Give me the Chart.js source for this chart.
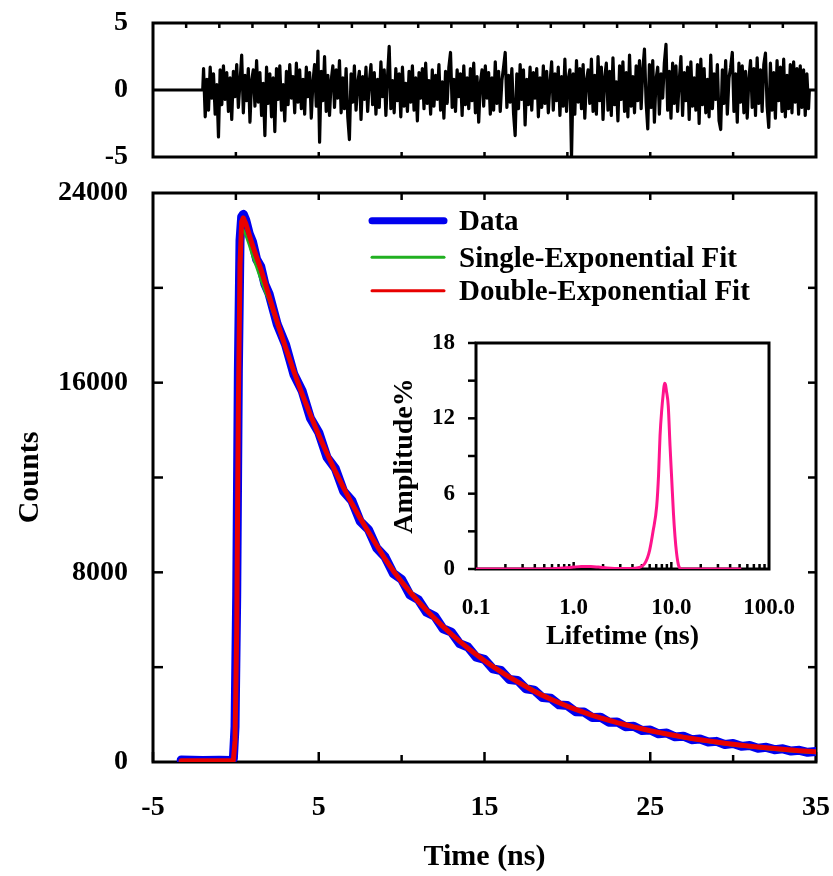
<!DOCTYPE html>
<html><head><meta charset="utf-8">
<script src="https://cdn.jsdelivr.net/npm/chart.js@4.4.1/dist/chart.umd.min.js"></script>
<style>
html,body{margin:0;padding:0;background:#fff;width:833px;height:876px;overflow:hidden;position:relative}
canvas{position:absolute}
</style></head><body>
<canvas id="res" width="833" height="175" style="left:0px;top:0px"></canvas>
<canvas id="main" width="833" height="701" style="left:0px;top:175px"></canvas>
<canvas id="inset" width="420" height="340" style="left:380px;top:330px"></canvas>
<script>
const FONT = "'Liberation Serif','Times New Roman',serif";

// ---------- residual panel (sampled every 0.1 ns from -1.95 ns) ----------
const resStart = -1.95, resStep = 0.1;
const residuals = [
 1.6,-2.0,0.8,-1.5,1.7,-0.6,1.2,-1.8,0.4,-3.5,1.5,-1.1,1.8,-0.7,1.3,-1.6,0.9,-2.2,1.4,-0.5,
 1.9,-1.3,0.6,2.6,-1.7,1.1,-0.8,1.6,-2.4,0.7,1.5,-1.2,2.2,-0.9,1.3,-1.9,0.5,-3.4,1.7,-1.0,
 1.2,-2.0,0.9,-3.1,1.6,-0.7,1.8,-1.5,0.4,-2.3,1.4,-1.1,1.9,-0.6,1.0,-1.7,2.0,-0.9,1.5,-1.4,
 0.8,-1.8,1.7,-0.5,1.3,-2.1,0.6,1.9,-1.2,2.9,-3.9,1.4,-0.8,2.5,-1.6,1.1,-1.9,0.7,1.8,-1.3,
 1.5,-0.6,2.2,-1.7,0.9,-1.4,1.6,-2.0,-3.7,1.2,-0.9,1.8,-1.5,0.5,1.4,-2.2,1.0,-0.7,1.7,-1.6,
 0.6,1.9,-1.1,1.3,-1.8,0.8,-1.3,2.1,-0.5,1.5,-1.9,1.0,3.25,-1.4,0.7,-1.7,1.6,-0.8,1.2,-2.0,
 1.7,-1.2,0.5,-1.6,1.4,-0.9,1.8,-1.5,0.9,-2.3,1.3,-0.6,1.6,-1.4,2.0,-1.0,0.7,-1.8,1.5,-1.2,
 1.1,-0.7,1.9,-1.5,0.6,-2.1,1.4,-1.0,1.7,2.8,-1.3,0.8,-1.6,1.5,-0.5,1.2,-1.9,1.8,-1.1,0.9,
 -1.4,1.6,-0.8,2.0,-1.7,1.0,-2.4,0.5,1.5,-1.2,1.8,-0.6,1.3,-1.8,0.9,-1.5,2.1,-1.0,1.4,-1.6,
 0.7,1.7,2.8,-1.3,1.1,-0.9,1.6,-1.7,-3.4,1.2,-1.4,1.9,-0.7,1.5,-2.6,0.8,-1.1,1.7,-1.5,1.3,
 -0.6,1.6,-2.0,0.9,-1.3,1.8,-1.0,1.4,-1.7,0.5,2.1,-1.5,1.2,-0.8,1.7,-1.9,1.0,-1.2,2.3,-1.6,
 0.8,1.5,-5.0,1.2,-1.8,2.2,-0.9,1.6,-1.4,1.9,-2.1,0.7,1.5,-1.0,2.3,-1.6,1.1,-1.8,2.5,-0.8,
 1.7,-2.2,0.9,2.0,-1.5,1.4,-1.9,2.4,-1.1,0.6,-2.3,1.8,-0.7,2.1,-1.6,1.3,-2.0,2.6,-1.2,1.0,
 -1.7,1.8,-0.8,2.2,-1.4,1.5,3.05,-0.9,-2.9,1.9,-1.3,2.2,-2.4,0.8,1.7,-1.8,1.2,-0.6,2.0,3.4,
 -1.5,1.4,-2.1,2.0,-1.0,1.8,-1.6,0.7,2.5,-1.9,1.3,-0.8,1.7,-2.2,2.1,-1.2,0.9,-1.5,1.9,-2.5,
 2.3,-1.1,1.6,-1.7,0.8,-2.0,2.6,-1.4,1.2,-0.7,1.9,-2.3,-2.95,1.5,-1.0,2.2,-1.8,0.9,1.7,2.8,
 -1.6,1.2,-2.4,2.0,-0.9,1.8,-1.7,1.4,-2.1,0.8,2.2,-1.3,1.6,-1.9,2.4,-1.0,1.5,-1.6,1.9,2.75,
 -1.2,-2.8,2.0,-1.5,1.3,-2.1,2.2,-0.8,1.7,-1.6,2.3,-2.0,1.1,-1.4,1.9,-1.7,2.1,-0.9,1.6,-1.8,
 1.8,-1.3,1.5,-1.9,1.2,-1.4
];
const resLeadTimes = [-5, -2.0];
const resLeadValues = [0, 0];
const resTailTimes = [34.6, 35];
const resTailValues = [0, 0];

// ---------- decay panel ----------
const decayTime = [
 -3.3,-2,-1,-0.3,-0.15,-0.05,0.05,0.15,0.25,0.35,0.45,0.6,0.8,1.0,1.25,1.5,1.75,
 2.0,2.5,3.0,3.5,4.0,4.5,5.0,5.5,6.0,6.5,7.0,7.5,8.0,8.5,9.0,9.5,10.0,10.5,11.0,11.5,
 12.0,12.5,13.0,13.5,14.0,14.5,15.0,15.5,16.0,16.5,17.0,17.5,18.0,18.5,19.0,19.5,20.0,20.5,
 21.0,21.5,22.0,22.5,23.0,23.5,24.0,24.5,25.0,25.5,26.0,26.5,27.0,27.5,28.0,28.5,29.0,29.5,
 30.0,30.5,31.0,31.5,32.0,32.5,33.0,33.5,34.0,34.5,35.0
];
const dataCounts = [
 80,60,70,60,150,1500,7000,16500,22000,23000,23100,22850,22300,21950,21200,20900,20150,
 19750,18450,17600,16350,15650,14500,13900,12850,12380,11420,11020,10150,9800,9020,8650,7950,7700,7050,6850,6320,
 6150,5620,5480,4990,4850,4420,4330,3930,3860,3480,3440,3090,3030,2720,2690,2410,2380,2120,
 2110,1880,1890,1680,1690,1490,1510,1330,1350,1190,1220,1060,1090,940,970,840,870,740,
 780,660,700,580,620,520,555,460,495,410,440
];
const singleFit = [
 50,50,50,50,80,900,5300,14500,20500,22300,22450,22200,21800,21350,20850,20350,19850,
 19450,18400,17390,16420,15510,14640,13820,13040,12310,11620,10970,10350,9760,9210,8640,8140,7680,7250,6850,6460,
 6100,5760,5440,5130,4850,4580,4320,4080,3850,3630,3420,3230,3040,2860,2690,2530,2380,2240,
 2100,1975,1860,1750,1645,1550,1455,1370,1290,1215,1145,1075,1010,950,895,840,790,745,
 700,660,620,585,550,515,485,455,430,405,380
];
const doubleFit = [
 50,50,50,50,80,900,5500,15000,21000,22800,22950,22700,22250,21800,21300,20800,20250,
 19650,18550,17480,16470,15520,14630,13790,13000,12260,11560,10900,10280,9700,9130,8560,8060,7600,7170,6770,6400,
 6050,5710,5390,5090,4800,4530,4270,4030,3800,3580,3380,3180,2980,2810,2650,2500,2350,2220,
 2090,1970,1860,1760,1660,1570,1480,1400,1320,1250,1180,1115,1050,995,940,890,840,795,
 750,710,670,635,600,565,535,505,478,452,428
];
const seriesNames = ['Data', 'Single-Exponential Fit', 'Double-Exponential Fit'];

// ---------- inset: lifetime distribution ----------
const lifetime = [0.1,0.3,0.6,0.8,1.0,1.2,1.5,1.8,2.2,3.0,4.0,4.6,5.0,5.3,5.7,6.0,6.5,7.08,7.4,7.66,8.0,8.27,8.5,8.7,8.9,9.3,9.7,10.1,10.5,10.9,11.3,11.8,12.3,13.0,20,52];
const amplitude = [0,0,0.02,0.08,0.15,0.2,0.2,0.15,0.08,0.03,0.03,0.1,0.22,0.4,0.9,1.5,3.0,5.0,7.5,10.6,12.8,14.0,14.8,14.7,14.2,13.0,9.8,7.1,4.5,2.6,1.3,0.35,0.05,0,0,0];

// ---------- tick values ----------
const timeLabelTicks = [-5, 5, 15, 25, 35];
const timeMinorTicks = [0, 10, 20, 30];
const timeTopTicks = [0, 5, 10, 15, 20, 25, 30];
const countTicks = [4000, 8000, 12000, 16000, 20000];
const resTopTicks = [-3,-1,1,3,5,7,9,11,13,15,17,19,21,23,25,27,29,31,33];
const resBottomTicks = [0, 5, 10, 15, 20, 25, 30];
const lifeLabelTicks = [0.1, 1, 10, 100];
const lifeMinorTicks = [0.2,0.3,0.4,0.5,0.6,0.7,0.8,0.9,2,3,4,5,6,7,8,9,20,30,40,50,60,70,80,90];
const lifeMajorTicks = [1, 10];
const ampTicks = [0, 3, 6, 9, 12, 15, 18];

const pts = (xs, ys) => xs.map((x, i) => ({x, y: ys[i]}));

const frame = {
  id: 'frame',
  beforeDatasetsDraw(chart, args, o) {
    const {ctx, chartArea: a, scales} = chart;
    ctx.save();
    ctx.strokeStyle = '#000';
    ctx.lineCap = 'butt';
    ctx.lineWidth = o.tickWidth;
    for (const m of o.marks) {
      const sc = scales[m.scale];
      for (const v of m.values) {
        const p = sc.getPixelForValue(v);
        ctx.beginPath();
        if (m.side === 'bottom') { ctx.moveTo(p, a.bottom); ctx.lineTo(p, a.bottom - m.len); }
        else if (m.side === 'top') { ctx.moveTo(p, a.top); ctx.lineTo(p, a.top + m.len); }
        else if (m.side === 'left') { ctx.moveTo(a.left, p); ctx.lineTo(a.left + m.len, p); }
        else { ctx.moveTo(a.right, p); ctx.lineTo(a.right - m.len, p); }
        ctx.stroke();
      }
    }
    ctx.lineWidth = o.borderWidth;
    ctx.strokeRect(a.left, a.top, a.right - a.left, a.bottom - a.top);
    ctx.restore();
  }
};

const keyBox = {
  id: 'keyBox',
  afterDatasetsDraw(chart, args, o) {
    const {ctx} = chart;
    ctx.save();
    chart.data.datasets.forEach((ds, i) => {
      const y = o.rows[i];
      ctx.strokeStyle = ds.borderColor;
      ctx.lineWidth = o.widths[i];
      ctx.lineCap = 'round';
      ctx.beginPath(); ctx.moveTo(o.x1, y); ctx.lineTo(o.x2, y); ctx.stroke();
      ctx.fillStyle = '#000';
      ctx.font = o.font;
      ctx.textBaseline = 'middle';
      ctx.textAlign = 'left';
      ctx.fillText(ds.label, o.textX, y + o.textDy);
    });
    ctx.restore();
  }
};

// fix the scale box size and stop tick-label overhang from moving the plot area
const fixSize = (w, h) => s => {
  if (w !== null) s.width = w;
  if (h !== null) s.height = h;
  s.paddingTop = 0; s.paddingBottom = 0; s.paddingLeft = 0; s.paddingRight = 0;
};

const tickFont = (size) => ({family: FONT, size, weight: 'bold', lineHeight: 1});
const titleFont = (size) => ({family: FONT, size, weight: 'bold', lineHeight: 1.2});
const noGrid = {display: false, drawTicks: false};
const common = {responsive: false, animation: false, devicePixelRatio: 1,
  plugins: {legend: {display: false}, tooltip: {enabled: false}}};

// Residuals
new Chart(document.getElementById('res'), {
  type: 'line',
  data: {datasets: [{
    data: [...pts(resLeadTimes, resLeadValues),
           ...residuals.map((r, i) => ({x: resStart + i * resStep, y: r})),
           ...pts(resTailTimes, resTailValues)],
    borderColor: '#000', borderWidth: 3.2, pointRadius: 0, tension: 0, borderJoinStyle: 'round'
  }]},
  options: {...common,
    layout: {autoPadding: false, padding: {left: 0, right: 17, top: 23, bottom: 0}},
    plugins: {...common.plugins, frame: {tickWidth: 2.5, borderWidth: 3, marks: [
      {scale: 'x', side: 'top', values: resTopTicks, len: 5},
      {scale: 'x', side: 'bottom', values: resBottomTicks, len: 5}
    ]}},
    scales: {
      x: {type: 'linear', min: -5, max: 35, grid: noGrid, border: {display: false},
          ticks: {display: false}, afterFit: fixSize(null, 18)},
      y: {min: -5, max: 5, grid: noGrid, border: {display: false},
          ticks: {stepSize: 5, font: tickFont(28), color: '#000', padding: 25, callback: v => String(v)},
          afterFit: fixSize(153, null)}
    }
  },
  plugins: [frame]
});

// Main decay
new Chart(document.getElementById('main'), {
  type: 'line',
  data: {datasets: [
    {label: seriesNames[0], data: pts(decayTime, dataCounts), borderColor: '#0000ee', borderWidth: 9, order: 3},
    {label: seriesNames[1], data: pts(decayTime, singleFit), borderColor: '#20b020', borderWidth: 2.5, order: 2},
    {label: seriesNames[2], data: pts(decayTime, doubleFit), borderColor: '#e80000', borderWidth: 5, order: 1}
  ]},
  options: {...common,
    elements: {point: {radius: 0}, line: {tension: 0, borderJoinStyle: 'round', borderCapStyle: 'round'}},
    layout: {autoPadding: false, padding: {left: 0, right: 17, top: 18, bottom: 0}},
    plugins: {...common.plugins,
      frame: {tickWidth: 2.5, borderWidth: 3, marks: [
        {scale: 'x', side: 'bottom', values: timeLabelTicks, len: 10},
        {scale: 'x', side: 'bottom', values: timeMinorTicks, len: 7},
        {scale: 'x', side: 'top', values: timeTopTicks, len: 7},
        {scale: 'y', side: 'left', values: countTicks, len: 10},
        {scale: 'y', side: 'right', values: countTicks, len: 8}
      ]},
      keyBox: {x1: 372, x2: 444, textX: 459, rows: [45.7, 82.3, 115.7], widths: [7, 3, 3],
               font: "bold 29px " + FONT, textDy: 2}
    },
    scales: {
      x: {type: 'linear', min: -5, max: 35, grid: noGrid, border: {display: false},
          ticks: {stepSize: 10, font: tickFont(28), color: '#000', padding: 32, maxRotation: 0, autoSkip: false,
                  callback: v => String(v)},
          title: {display: true, text: 'Time (ns)', font: titleFont(30), color: '#000', padding: {top: 0, bottom: 1}},
          afterFit: fixSize(null, 114)},
      y: {min: 0, max: 24000, grid: noGrid, border: {display: false},
          ticks: {stepSize: 8000, font: tickFont(28), color: '#000', padding: 25, callback: v => String(v)},
          title: {display: true, text: 'Counts', font: titleFont(30), color: '#000', padding: {top: 12, bottom: 0}},
          afterFit: fixSize(153, null)}
    }
  },
  plugins: [frame, keyBox]
});

// Inset
new Chart(document.getElementById('inset'), {
  type: 'line',
  data: {datasets: [{data: pts(lifetime, amplitude), borderColor: '#ff148c', borderWidth: 3,
    pointRadius: 0, cubicInterpolationMode: 'monotone'}]},
  options: {...common,
    layout: {autoPadding: false, padding: {left: 0, right: 31, top: 13, bottom: 0}},
    plugins: {...common.plugins, frame: {tickWidth: 2.5, borderWidth: 3, marks: [
      {scale: 'x', side: 'bottom', values: lifeMinorTicks, len: 5},
      {scale: 'x', side: 'bottom', values: lifeMajorTicks, len: 7},
      {scale: 'y', side: 'left', values: ampTicks, len: -8}
    ]}},
    scales: {
      x: {type: 'logarithmic', min: 0.1, max: 100, grid: noGrid, border: {display: false},
          afterBuildTicks: s => { s.ticks = lifeLabelTicks.map(v => ({value: v})); },
          ticks: {font: tickFont(23), color: '#000', padding: 28, autoSkip: false, maxRotation: 0,
                  callback: v => Number(v).toFixed(1)},
          title: {display: true, text: 'Lifetime (ns)', font: titleFont(28), color: '#000', padding: {top: 0, bottom: 16}},
          afterFit: fixSize(null, 101)},
      y: {min: 0, max: 18, grid: noGrid, border: {display: false},
          ticks: {stepSize: 6, font: tickFont(23), color: '#000', padding: 21, callback: v => String(v)},
          title: {display: true, text: 'Amplitude%', font: titleFont(28), color: '#000', padding: {top: 8, bottom: 0}},
          afterFit: fixSize(96, null)}
    }
  },
  plugins: [frame]
});
</script></body></html>
